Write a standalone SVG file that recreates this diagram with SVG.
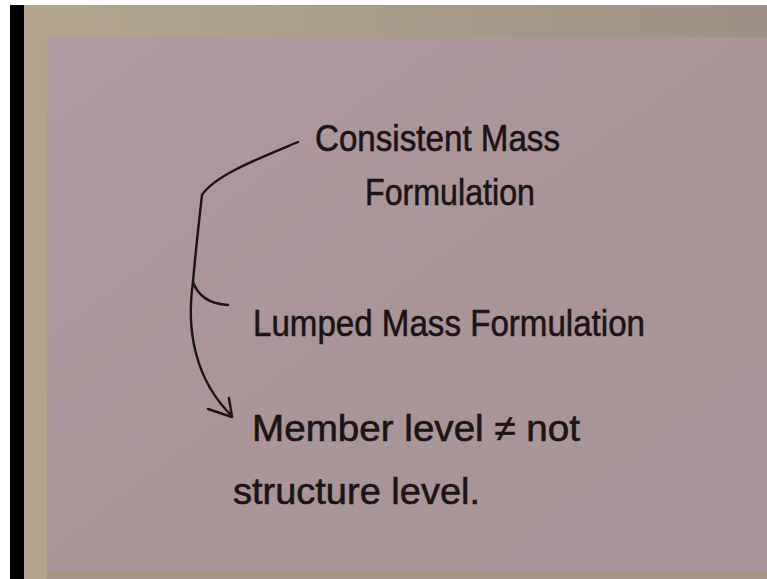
<svg xmlns="http://www.w3.org/2000/svg" width="767" height="579" viewBox="0 0 767 579">
<defs>
<style>
.t{font-family:"Liberation Sans","DejaVu Sans",sans-serif;fill:#1c1416;stroke:#1c1416;stroke-width:0.6;font-size:37px;}
.c{fill:none;stroke:#1c1416;stroke-width:2.4;stroke-linecap:round;stroke-linejoin:round;}
</style>
<linearGradient id="pg" x1="0" y1="0" x2="1" y2="1">
<stop offset="0" stop-color="#b09aa0"/>
<stop offset="0.5" stop-color="#aa9498"/>
<stop offset="1" stop-color="#a89498"/>
</linearGradient>
<linearGradient id="tg" x1="0" y1="0" x2="1" y2="0">
<stop offset="0" stop-color="#b4a68e"/>
<stop offset="1" stop-color="#9c9184"/>
</linearGradient>
</defs>
<rect width="767" height="579" fill="#ffffff"/>
<rect x="10" y="5" width="757" height="574" fill="#b3a28c"/>
<rect x="23" y="5" width="744" height="36" fill="url(#tg)"/>
<rect x="10" y="5" width="14" height="574" fill="#000000"/>
<rect x="47" y="37" width="720" height="536" fill="url(#pg)"/>
<rect x="47" y="572" width="720" height="7" fill="#a39583"/>
<g id="connectors">
<path class="c" d="M298,142 C260,158 215,175 202,195 C198,230 195,258 193,282"/>
<path class="c" d="M193,282 C198,296 210,304 228,305"/>
<path class="c" d="M193,282 C186,330 195,380 232,416"/>
<path class="c" d="M208,409 L232,417 L229,398"/>
</g>
<g id="node-consistent">
<text class="t" x="315" y="151" textLength="245" lengthAdjust="spacingAndGlyphs">Consistent Mass</text>
<text class="t" x="365" y="205" textLength="170" lengthAdjust="spacingAndGlyphs">Formulation</text>
</g>
<g id="node-lumped">
<text class="t" x="253" y="336" textLength="392" lengthAdjust="spacingAndGlyphs">Lumped Mass Formulation</text>
</g>
<g id="node-member">
<text class="t" x="252" y="441" textLength="328" lengthAdjust="spacingAndGlyphs">Member level ≠ not</text>
<text class="t" x="233" y="504" textLength="247" lengthAdjust="spacingAndGlyphs">structure level.</text>
</g>
</svg>
